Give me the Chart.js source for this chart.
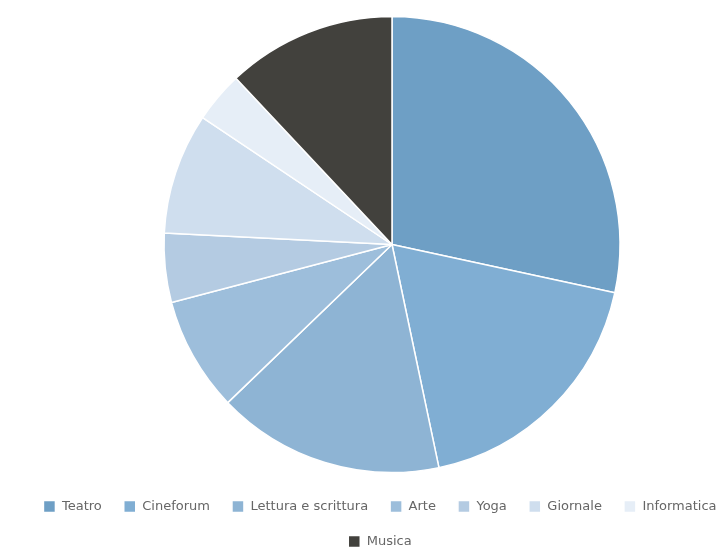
<!DOCTYPE html>
<html>
<head>
<meta charset="utf-8">
<script src="https://cdn.jsdelivr.net/npm/chart.js@4/dist/chart.umd.min.js"></script>
<style>
  html, body { margin: 0; padding: 0; background: #fff; overflow: hidden; }
  #wrap { position: relative; width: 784px; height: 548px; }
</style>
</head>
<body>
<div id="wrap"><canvas id="chart"></canvas></div>
<script>
'use strict';

// Categorie e quote (in %)
const LABELS = ['Teatro', 'Cineforum', 'Lettura e scrittura', 'Arte', 'Yoga', 'Giornale', 'Informatica', 'Musica'];
const VALUES = [28.4, 18.3, 16.1, 8.1, 4.9, 8.6, 3.6, 12.0];
const COLORS = ['#6e9fc5', '#80aed3', '#8eb4d4', '#9dbedb', '#b4cbe2', '#cfdeee', '#e6eef7', '#42413d'];

// la legenda nell'originale è un po' spostata a sinistra rispetto alla torta
const legendShift = {
  id: 'legendShift',
  afterLayout(chart) {
    chart.legend.left -= 12;
    chart.legend.right -= 12;
  },
};

new Chart(document.getElementById('chart'), {
  type: 'pie',
  data: {
    labels: LABELS,
    datasets: [{
      data: VALUES,
      backgroundColor: COLORS,
      borderColor: '#ffffff',
      borderWidth: 1.5,
    }],
  },
  options: {
    animation: false,
    responsive: true,
    maintainAspectRatio: false,
    radius: 228,
    layout: { padding: { top: 11, bottom: -10, left: 10, right: 10 } },
    plugins: {
      tooltip: { enabled: false },
      legend: {
        position: 'bottom',
        labels: {
          boxWidth: 12,
          boxHeight: 12,
          padding: 22,
          color: '#666666',
          font: { family: '"DejaVu Sans", sans-serif', size: 13 },
        },
      },
    },
  },
  plugins: [legendShift],
});
</script>
</body>
</html>
